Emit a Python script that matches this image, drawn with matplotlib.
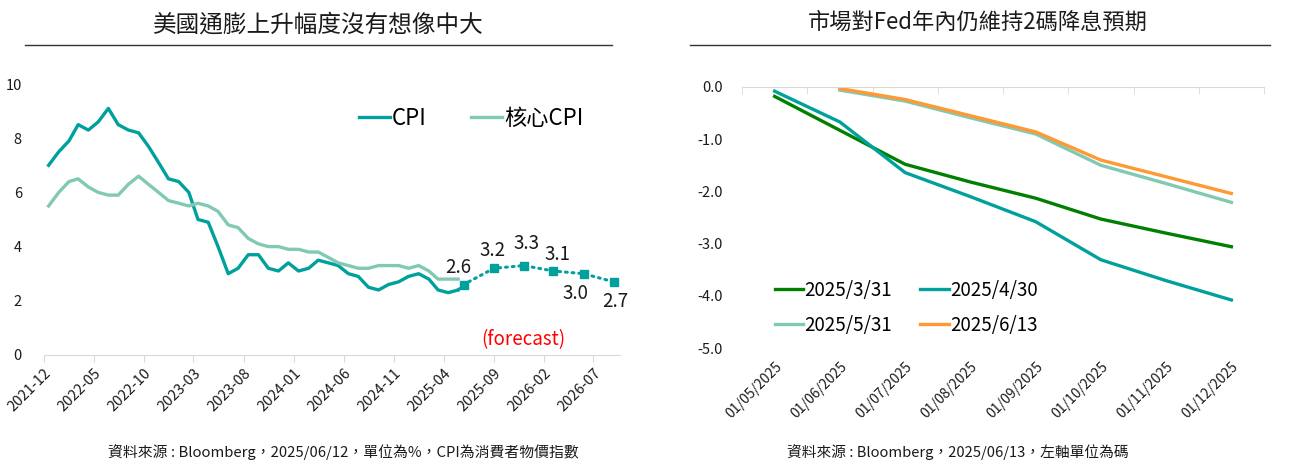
import numpy as np
import pandas as pd
import matplotlib
matplotlib.use("Agg")
from matplotlib import pyplot as plt
from matplotlib.lines import Line2D

plt.rcParams['font.family'] = ['Noto Sans CJK TC', 'DejaVu Sans']

# ---- left chart data: US CPI / core CPI (YoY %) ----
cpi = [7.0, 7.5, 7.9, 8.5, 8.3, 8.6, 9.1, 8.5, 8.3, 8.2, 7.7, 7.1,
       6.5, 6.4, 6.0, 5.0, 4.9, 4.0, 3.0, 3.2, 3.7, 3.7, 3.2, 3.1,
       3.4, 3.1, 3.2, 3.5, 3.4, 3.3, 3.0, 2.9, 2.5, 2.4, 2.6, 2.7,
       2.9, 3.0, 2.8, 2.4, 2.3, 2.4]
core_cpi = [5.5, 6.0, 6.4, 6.5, 6.2, 6.0, 5.9, 5.9, 6.3, 6.6, 6.3, 6.0,
            5.7, 5.6, 5.5, 5.6, 5.5, 5.3, 4.8, 4.7, 4.3, 4.1, 4.0, 4.0,
            3.9, 3.9, 3.8, 3.8, 3.6, 3.4, 3.3, 3.2, 3.2, 3.3, 3.3, 3.3,
            3.2, 3.3, 3.1, 2.8, 2.8, 2.8]
forecast_dates = ['2025-06-01', '2025-09-01', '2025-12-01',
                  '2026-03-01', '2026-06-01', '2026-09-01']
forecast = [2.6, 3.2, 3.3, 3.1, 3.0, 2.7]
left_ticks = ['2021-12', '2022-05', '2022-10', '2023-03', '2023-08', '2024-01',
              '2024-06', '2024-11', '2025-04', '2025-09', '2026-02', '2026-07']

# ---- right chart data: implied Fed cuts (in 25bp "碼") ----
meet_labels = ['01/05/2025', '01/06/2025', '01/07/2025', '01/08/2025',
               '01/09/2025', '01/10/2025', '01/11/2025', '01/12/2025']
cuts_0331 = [-0.18, -0.83, -1.48, -1.82, -2.13, -2.53, -2.80, -3.06]
cuts_0430 = [-0.08, -0.67, -1.64, -2.10, -2.58, -3.31, -3.71, -4.08]
cuts_0531 = [np.nan, -0.06, -0.27, -0.59, -0.90, -1.50, -1.85, -2.21]
cuts_0613 = [np.nan, -0.03, -0.24, -0.55, -0.86, -1.40, -1.72, -2.04]

TEAL = '#00A19C'
LGREEN = '#82C9B4'
DGREEN = '#008000'
ORANGE = '#FF9933'
GRID = '#D9D9D9'
TXT = '#1A1A1A'

fig = plt.figure(figsize=(12.89, 4.63), dpi=100)

# ================= left =================
ax = fig.add_axes([44 / 1289, 1 - 355 / 463, (620 - 44) / 1289, (355 - 84) / 463])
months = pd.date_range('2021-12-01', periods=len(cpi), freq='MS') + pd.Timedelta(days=14)
fc_x = pd.to_datetime(forecast_dates)

ax.plot(months, cpi, color=TEAL, lw=2.4, label='CPI')
ax.plot(months, core_cpi, color=LGREEN, lw=2.4, label='核心CPI')
ax.plot([months[-1]] + list(fc_x), [cpi[-1]] + forecast, color=TEAL, lw=2.2,
        ls=(0, (0.6, 1.6)), dash_capstyle='round')
ax.plot(fc_x, forecast, ls='none', marker='s', ms=6, color=TEAL)

offsets = [(-4, 12), (-1, 13), (2, 16), (3, 12), (-6, -14), (1, -14)]
for d, v, off in zip(fc_x, forecast, offsets):
    ax.annotate(f'{v:.1f}', (d, v), xytext=off, textcoords='offset points',
                ha='center', va='center', fontsize=13.5, color=TXT)
ax.text(fc_x[2], 0.55, '(forecast)', color='#FF0000', fontsize=13.5,
        ha='center', va='center')

ax.set_ylim(0, 10)
ax.set_yticks(range(0, 11, 2))
ax.set_xlim(pd.Timestamp('2021-12-01'), pd.Timestamp('2026-09-20'))
ax.set_xticks(pd.to_datetime(left_ticks))
ax.set_xticklabels(left_ticks, rotation=45, ha='right', rotation_mode='anchor')
for s in ['top', 'right', 'left']:
    ax.spines[s].set_visible(False)
ax.spines['bottom'].set_color(GRID)
ax.tick_params(axis='x', length=5, color=GRID, labelsize=10.5, labelcolor=TXT, pad=3)
ax.tick_params(axis='y', length=0, labelsize=10.5, labelcolor=TXT, pad=16)
ax.legend(loc='upper right', bbox_to_anchor=(0.972, 0.99), ncol=2, frameon=False,
          fontsize=16, handlelength=1.4, handletextpad=0.1, columnspacing=2.0)

fig.text(318 / 1289, 1 - 25 / 463, '美國通膨上升幅度沒有想像中大', ha='center',
         va='center', fontsize=17, color=TXT)
fig.add_artist(Line2D([25 / 1289, 612 / 1289], [1 - 45 / 463] * 2, color='#333333', lw=1))
fig.text(343 / 1289, 1 - 452 / 463, '資料來源 : Bloomberg，2025/06/12，單位為%，CPI為消費者物價指數',
         ha='center', va='center', fontsize=10.7, color=TXT)

# ================= right =================
bx = fig.add_axes([742 / 1289, 1 - 348 / 463, (1264 - 742) / 1289, (348 - 87) / 463])
xi = np.arange(len(meet_labels))
l1, = bx.plot(xi, cuts_0331, color=DGREEN, lw=2.4, label='2025/3/31')
l2, = bx.plot(xi, cuts_0430, color=TEAL, lw=2.4, label='2025/4/30')
l3, = bx.plot(xi, cuts_0531, color=LGREEN, lw=2.4, label='2025/5/31')
l4, = bx.plot(xi, cuts_0613, color=ORANGE, lw=2.4, label='2025/6/13')

bx.set_xlim(-0.5, len(meet_labels) - 0.5)
bx.set_ylim(-5, 0)
bx.set_yticks(np.arange(-5, 0.1, 1))
bx.set_yticklabels([f'{v:.1f}' for v in np.arange(-5, 0.1, 1)])
bx.set_xticks(xi)
bx.set_xticklabels(meet_labels, rotation=45, ha='right', rotation_mode='anchor')
bx.set_xticks(np.arange(-0.5, len(meet_labels)), minor=True)
for s in ['bottom', 'right', 'left']:
    bx.spines[s].set_visible(False)
bx.spines['top'].set_color(GRID)
bx.tick_params(axis='x', which='major', length=0, labelsize=10, labelcolor=TXT, pad=8)
bx.tick_params(axis='x', which='minor', bottom=False, top=True, direction='in',
               length=5, color=GRID)
bx.tick_params(axis='y', length=0, labelsize=10.5, labelcolor=TXT, pad=14)
bx.legend(handles=[l1, l3, l2, l4], loc='lower left', bbox_to_anchor=(0.03, -0.018),
          ncol=2, frameon=False, fontsize=13.5, handlelength=1.5, handletextpad=0.1,
          columnspacing=1.5, labelspacing=0.75)

fig.text(978 / 1289, 1 - 22 / 463, '市場對Fed年內仍維持2碼降息預期', ha='center',
         va='center', fontsize=16, color=TXT)
fig.add_artist(Line2D([690 / 1289, 1270 / 1289], [1 - 45 / 463] * 2, color='#333333', lw=1))
fig.text(958 / 1289, 1 - 452 / 463, '資料來源 : Bloomberg，2025/06/13，左軸單位為碼',
         ha='center', va='center', fontsize=10.6, color=TXT)

fig.savefig('out.png', dpi=100)
